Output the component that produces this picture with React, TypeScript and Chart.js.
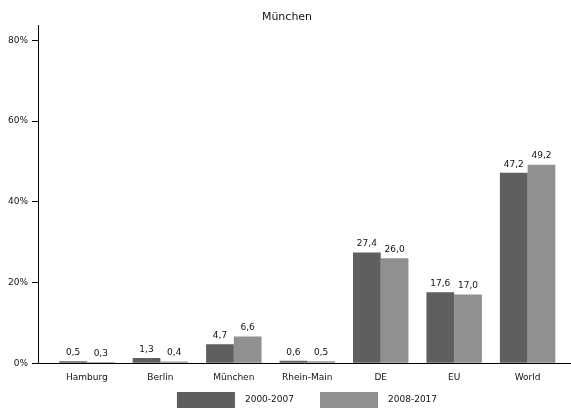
import React, { useEffect, useRef } from "react";
import { Chart, registerables } from "chart.js";
Chart.register(...registerables);

const categories = ["Hamburg", "Berlin", "München", "Rhein-Main", "DE", "EU", "World"];
const series2000 = [0.5, 1.3, 4.7, 0.6, 27.4, 17.6, 47.2];
const series2008 = [0.3, 0.4, 6.6, 0.5, 26.0, 17.0, 49.2];
const seriesNames = ["2000-2007", "2008-2017"];
const yTicks = [0, 20, 40, 60, 80];

const FONT = "'DejaVu Sans', Verdana, sans-serif";

const labelPlugin = {
  id: "valueLabels",
  afterDatasetsDraw(chart: any) {
    const ctx = chart.ctx;
    ctx.save();
    ctx.font = `9px ${FONT}`;
    ctx.fillStyle = "#111";
    ctx.textAlign = "center";
    ctx.textBaseline = "bottom";
    chart.data.datasets.forEach((ds: any, i: number) => {
      const meta = chart.getDatasetMeta(i);
      meta.data.forEach((bar: any, j: number) => {
        const v = ds.data[j].y;
        ctx.fillText(v.toFixed(1).replace(".", ","), bar.x, bar.y - 4);
      });
    });
    ctx.restore();
  },
};

const legendPlugin = {
  id: "customLegend",
  afterDraw(chart: any) {
    const ctx = chart.ctx;
    const area = chart.chartArea;
    ctx.save();
    ctx.font = `9px ${FONT}`;
    const boxW = 58, boxH = 16, gapText = 10, gapItem = 26;
    const items = chart.data.datasets.map((ds: any) => ({
      text: ds.label,
      color: ds.backgroundColor,
      w: ctx.measureText(ds.label).width,
    }));
    const total = items.reduce((s: number, it: any) => s + boxW + gapText + it.w, 0) + gapItem * (items.length - 1);
    let x = (area.left + area.right) / 2 - total / 2 + 3;
    const y = chart.height - 2 - boxH;
    items.forEach((it: any) => {
      ctx.fillStyle = it.color;
      ctx.fillRect(x, y, boxW, boxH);
      ctx.fillStyle = "#111";
      ctx.textAlign = "left";
      ctx.textBaseline = "middle";
      ctx.fillText(it.text, x + boxW + gapText, y + boxH / 2);
      x += boxW + gapText + it.w + gapItem;
    });
    ctx.restore();
  },
};

export default function App() {
  const ref = useRef<HTMLCanvasElement>(null);
  useEffect(() => {
    document.body.style.margin = "0";
    const chart = new Chart(ref.current!, {
      type: "bar",
      data: {
        datasets: [
          {
            label: seriesNames[0],
            data: series2000.map((v, i) => ({ x: i, y: v })),
            backgroundColor: "#5f5f5f",
            categoryPercentage: 0.755,
            barPercentage: 1,
          },
          {
            label: seriesNames[1],
            data: series2008.map((v, i) => ({ x: i, y: v })),
            backgroundColor: "#909090",
            categoryPercentage: 0.755,
            barPercentage: 1,
          },
        ],
      },
      options: {
        animation: false,
        responsive: true,
        maintainAspectRatio: false,
        layout: { padding: { left: 4, right: 1, top: 0, bottom: 18 } },
        scales: {
          x: {
            type: "linear",
            offset: false,
            min: -0.666,
            max: 6.577,
            grid: { display: false, drawTicks: false, tickLength: 0 },
            border: { display: true, color: "#000", width: 1 },
            ticks: {
              stepSize: 1,
              includeBounds: false,
              autoSkip: false,
              maxRotation: 0,
              padding: 9,
              color: "#111",
              font: { family: FONT, size: 9 },
              callback: (v: any) => (Number.isInteger(v) && categories[v] !== undefined ? categories[v] : ""),
            },
          },
          y: {
            min: 0,
            max: 83.75,
            afterBuildTicks: (scale: any) => {
              scale.ticks = yTicks.map((v) => ({ value: v }));
            },
            grid: { display: true, drawOnChartArea: false, tickLength: 6, color: "#000" },
            border: { display: true, color: "#000", width: 1 },
            ticks: {
              includeBounds: false,
              padding: 4,
              color: "#111",
              font: { family: FONT, size: 9 },
              callback: (v: any) => `${v}%`,
            },
          },
        },
        plugins: {
          title: {
            display: true,
            text: "München",
            color: "#111",
            font: { family: FONT, size: 11, weight: "normal" },
            padding: { top: 11, bottom: 1 },
          },
          legend: { display: false },
          tooltip: { enabled: false },
        },
      },
      plugins: [labelPlugin, legendPlugin],
    } as any);
    return () => chart.destroy();
  }, []);
  return (
    <div style={{ width: 571, height: 410 }}>
      <canvas ref={ref} />
    </div>
  );
}
